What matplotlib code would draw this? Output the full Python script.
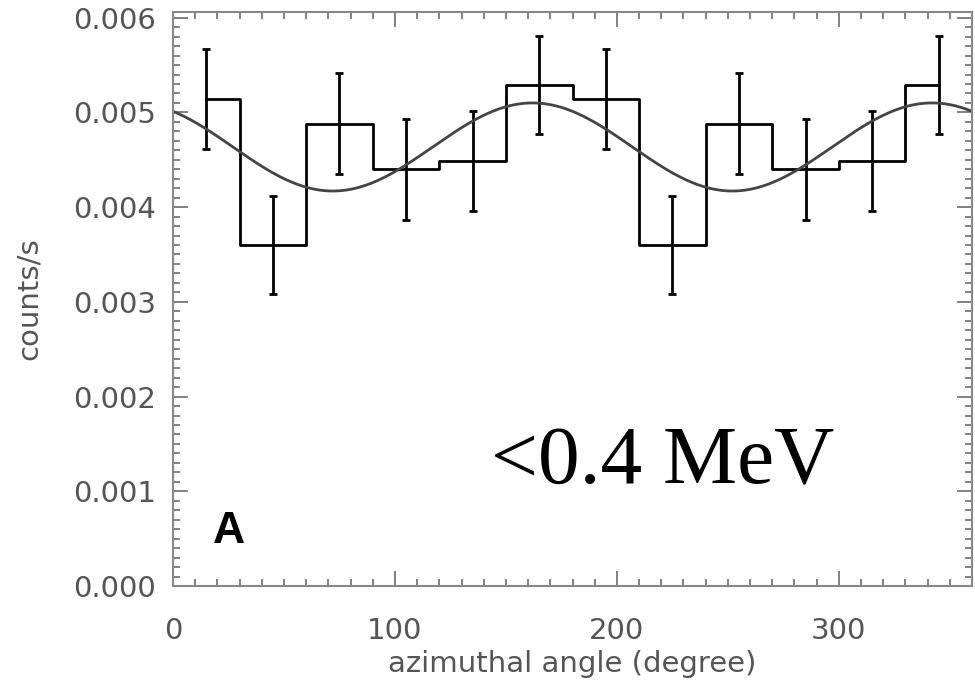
import numpy as np
import matplotlib
matplotlib.use("Agg")
import matplotlib.pyplot as plt
from matplotlib.ticker import MultipleLocator, FormatStrFormatter

# bin centres (degrees) and rates
bin_centers = [15, 45, 75, 105, 135, 165, 195, 225, 255, 285, 315, 345]
rates = [0.00514, 0.00360, 0.00488, 0.00440, 0.00449, 0.00529,
         0.00514, 0.00360, 0.00488, 0.00440, 0.00449, 0.00529]
errors = [0.000525, 0.000515, 0.000535, 0.000535, 0.00053, 0.00052,
          0.000525, 0.000515, 0.000535, 0.000535, 0.00053, 0.00052]

# fitted modulation curve: mean + amp * cos(2 (phi - phi0))
fit_mean = 0.004635
fit_amp = 0.000465
fit_phase = 162.0

phi = np.linspace(0, 360, 721)
model = fit_mean + fit_amp * np.cos(np.radians(2 * (phi - fit_phase)))

fig = plt.figure(figsize=(9.75, 6.84), dpi=100)
ax = fig.add_axes([173 / 975, 1 - 586 / 684, 799 / 975, 574 / 684])

# IDL psym=10 style histogram: steps at midpoints between centres
ax.step(bin_centers, rates, where="mid", color="black", lw=2)
ax.errorbar(bin_centers, rates, yerr=errors, fmt="none", ecolor="black",
            elinewidth=2, capsize=3, capthick=2)
ax.plot(phi, model, color="#444444", lw=2)

ax.set_xlim(0, 360)
ax.set_ylim(0, 0.00606)
ax.xaxis.set_major_locator(MultipleLocator(100))
ax.xaxis.set_minor_locator(MultipleLocator(10))
ax.yaxis.set_major_locator(MultipleLocator(0.001))
ax.yaxis.set_minor_locator(MultipleLocator(0.0001))
ax.yaxis.set_major_formatter(FormatStrFormatter("%.3f"))

gray = "#555555"
ax.tick_params(which="both", direction="in", top=True, right=True,
               colors="#777777", labelcolor=gray, labelsize=21, width=1.3)
ax.tick_params(which="major", length=11)
ax.tick_params(axis="x", which="major", pad=22)
ax.tick_params(axis="y", which="major", pad=12)
ax.tick_params(which="minor", length=5)
for s in ax.spines.values():
    s.set_color("#888888")
    s.set_linewidth(1.5)

ax.set_xlabel("azimuthal angle (degree)", fontsize=21, color=gray, labelpad=4)
ax.set_ylabel("counts/s", fontsize=21, color=gray, labelpad=22)

ax.text(0.05, 0.075, "A", transform=ax.transAxes, fontsize=32,
        fontweight="bold", family="Liberation Sans", color="black")
ax.text(0.613, 0.178, "<0.4 MeV", transform=ax.transAxes, fontsize=60,
        family="Liberation Serif", color="black", ha="center")

fig.savefig("out.png", dpi=100)
